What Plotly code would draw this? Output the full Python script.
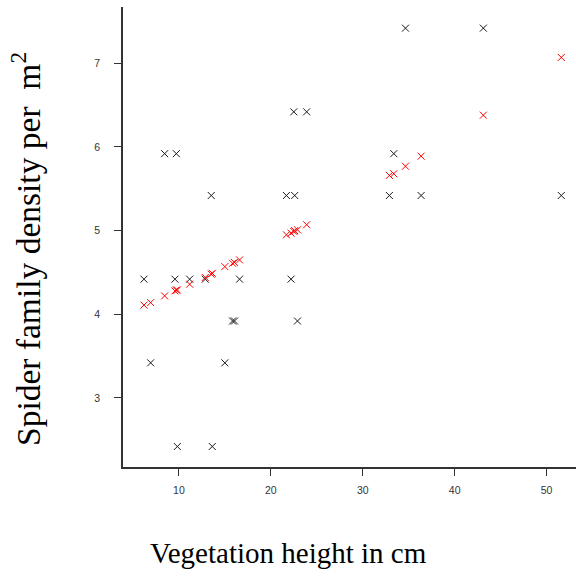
import plotly.graph_objects as go

# Data
veg_height = [6.2, 6.93, 8.45, 9.57, 9.72, 9.83, 11.17, 12.87, 13.52, 13.63,
              15.0, 15.84, 16.05, 16.6, 21.7, 22.2, 22.5, 22.6, 22.9, 23.9,
              32.9, 33.38, 34.65, 36.35, 43.12, 51.6]
observed = [4.42, 3.42, 5.92, 4.42, 5.92, 2.42, 4.42, 4.42, 5.42, 2.42,
            3.42, 3.92, 3.92, 4.42, 5.42, 4.42, 6.42, 5.42, 3.92, 6.42,
            5.42, 5.92, 7.42, 5.42, 7.42, 5.42]
fitted = [4.11, 4.14, 4.22, 4.28, 4.29, 4.29, 4.36, 4.44, 4.48, 4.49,
          4.57, 4.61, 4.62, 4.65, 4.95, 4.97, 4.99, 5.00, 5.01, 5.07,
          5.66, 5.68, 5.77, 5.89, 6.38, 7.07]
x_ticks = [10, 20, 30, 40, 50]
y_ticks = [3, 4, 5, 6, 7]

fig = go.Figure()
fig.add_trace(go.Scatter(
    x=veg_height, y=observed, mode="markers", name="observed",
    marker=dict(symbol="x-thin", size=7, color="#1a1a1a",
                line=dict(width=1, color="#1a1a1a")),
))
fig.add_trace(go.Scatter(
    x=veg_height, y=fitted, mode="markers", name="fitted",
    marker=dict(symbol="x-thin", size=7, color="#ff0000",
                line=dict(width=1, color="#ff0000")),
))

axis_common = dict(
    showgrid=False, zeroline=False, showline=True, linecolor="#333333",
    linewidth=1.6, ticks="outside", ticklen=7, tickwidth=1.2,
    tickcolor="#333333",
    tickfont=dict(family="Liberation Sans, Arial", size=10.5, color="#333333"),
)

fig.update_layout(
    width=576, height=576,
    margin=dict(l=123, r=0, t=7, b=109, pad=0),
    plot_bgcolor="white", paper_bgcolor="white",
    showlegend=False,
    xaxis=dict(range=[3.92, 53.2], tickvals=x_ticks, ticklabelstandoff=6,
               **axis_common),
    yaxis=dict(range=[2.175, 7.673], tickvals=y_ticks, ticklabelstandoff=12,
               **axis_common),
    annotations=[
        dict(text="Vegetation height in cm", xref="paper", yref="paper",
             x=(288 - 123) / 453, y=(467 - 553) / 460,
             xanchor="center", yanchor="middle", showarrow=False,
             font=dict(family="Liberation Serif, Times New Roman", size=29,
                       color="black")),
        dict(text="Spider family density per\u00a0\u00a0m<sup>2</sup>",
             xref="paper", yref="paper",
             x=(26 - 123) / 453, y=(467 - 249) / 460, textangle=-90,
             xanchor="center", yanchor="middle", showarrow=False,
             font=dict(family="Liberation Serif, Times New Roman", size=33.5,
                       color="black")),
    ],
)

fig.write_html("out.html")
